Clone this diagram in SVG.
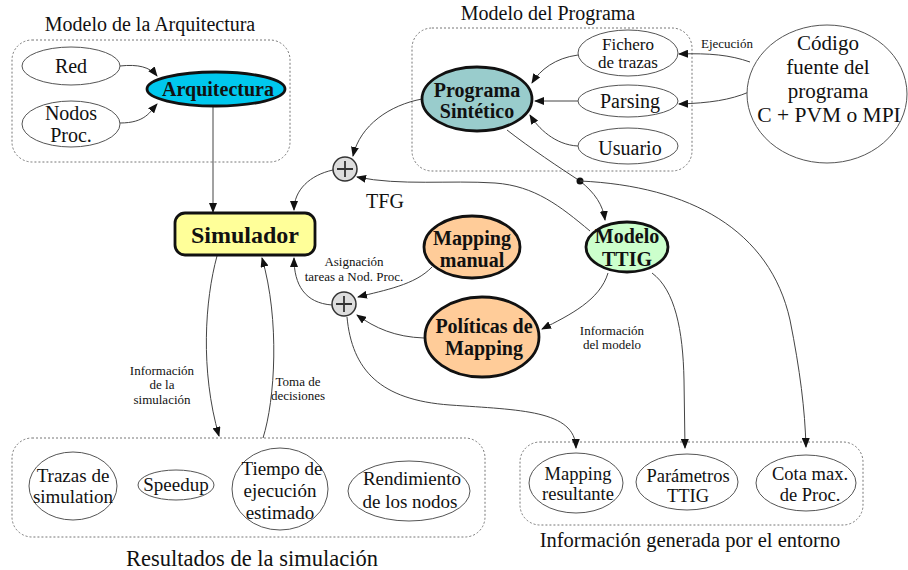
<svg xmlns="http://www.w3.org/2000/svg" width="908" height="570" viewBox="0 0 908 570">
<defs>
<marker id="ah" markerWidth="10" markerHeight="8" refX="9" refY="4" orient="auto" markerUnits="userSpaceOnUse">
<path d="M0,0 L10,4 L0,8 z" fill="#111"/>
</marker>
<style>
text{font-family:"Liberation Serif","Times New Roman",serif;fill:#111;text-anchor:middle}
.t{font-size:20px}
.n{font-size:19px}
.s{font-size:13px}
.b{font-size:20px;font-weight:bold}
.box{fill:none;stroke:#777;stroke-width:1;stroke-dasharray:2,2}
.thin{fill:#fff;stroke:#555;stroke-width:1}
.thick{stroke:#111;stroke-width:2.8}
.c{fill:none;stroke:#444;stroke-width:1}
.ca{fill:none;stroke:#444;stroke-width:1;marker-end:url(#ah)}
.plus{fill:#ddd;stroke:#333;stroke-width:1.5}
.pl{stroke:#333;stroke-width:1.8}
.cod{font-size:21px}
</style>
</defs>
<rect width="908" height="570" fill="#fff"/>

<g id="grp-arq">
<rect class="box" x="12" y="40" width="278" height="122" rx="20"/>
<text class="t" x="150" y="31">Modelo de la Arquitectura</text>
</g>
<g id="grp-prog">
<rect class="box" x="412" y="28" width="280" height="143" rx="20"/>
<text class="t" x="548" y="20">Modelo del Programa</text>
</g>
<g id="grp-res">
<rect class="box" x="12" y="438" width="473" height="99" rx="20"/>
<text class="t" x="252" y="566" style="font-size:22.5px">Resultados de la simulación</text>
</g>
<g id="grp-info">
<rect class="box" x="520" y="442" width="343" height="83" rx="20"/>
<text class="t" x="690" y="547" style="font-size:20.5px">Información generada por el entorno</text>
</g>

<g id="connectors">
<path class="ca" d="M120,66 C138,64 150,67 157,76"/>
<path class="ca" d="M120,123 C145,123 150,112 157,104"/>
<path class="ca" d="M213,107 L213,212"/>
<path class="ca" d="M422,99 C390,105 360,125 353,156"/>
<path class="ca" d="M333,170 C310,175 294,190 294,210"/>
<path class="ca" d="M578,55 C555,58 540,70 532,83"/>
<path class="ca" d="M578,101 L535,101"/>
<path class="ca" d="M578,146 C555,145 538,128 530,115"/>
<path class="ca" d="M750,62 C730,55 710,53 679,54"/>
<path class="ca" d="M749,92 C730,100 710,103 679,104"/>
<path class="ca" d="M507,130 C530,148 560,168 580,181 C595,193 603,205 605,220"/>
<circle cx="580" cy="181" r="3.5" fill="#111"/>
<path class="ca" d="M580,181 C690,186 770,230 790,320 C800,370 805,410 806,447"/>
<path class="ca" d="M590,231 C560,206 535,186 495,183 C450,180 400,186 357,177"/>
<path class="ca" d="M608,273 C600,300 570,315 542,329"/>
<path class="ca" d="M652,273 C675,290 683,330 684,380 L685,448"/>
<path class="ca" d="M432,267 C415,285 385,290 358,297"/>
<path class="ca" d="M424,338 C395,337 375,328 357,315"/>
<path class="ca" d="M332,305 C305,303 294,285 294,258"/>
<path class="ca" d="M347,317 C352,370 380,400 450,405 C520,410 575,410 576,448"/>
<path class="ca" d="M217,256 C205,300 200,370 219,436"/>
<path class="ca" d="M263,438 C275,400 280,320 262,258"/>
<text class="s" x="727" y="48">Ejecución</text>
<text class="t" x="385" y="208">TFG</text>
<text class="s" x="354" y="266">Asignación</text>
<text class="s" x="354" y="281">tareas a Nod. Proc.</text>
<text class="s" x="612" y="335">Información</text>
<text class="s" x="612" y="349">del modelo</text>
<text class="s" x="162" y="375">Información</text>
<text class="s" x="162" y="389">de la</text>
<text class="s" x="162" y="404">simulación</text>
<text class="s" x="298" y="386">Toma de</text>
<text class="s" x="298" y="400">decisiones</text>
</g>

<g id="n-red"><ellipse class="thin" cx="71" cy="66" rx="49" ry="19"/><text class="t" x="71" y="73">Red</text></g>
<g id="n-nodos"><ellipse class="thin" cx="71" cy="124" rx="49" ry="23"/><text class="t" x="71" y="120">Nodos</text><text class="t" x="71" y="142">Proc.</text></g>
<g id="n-arq"><ellipse class="thick" fill="#00c8ee" cx="216" cy="89" rx="69" ry="17"/><text class="b" x="218" y="96">Arquitectura</text></g>
<g id="n-sim"><rect class="thick" fill="#ffff99" x="175" y="213" width="140" height="42" rx="10"/><text class="b" x="245" y="243" style="font-size:24px">Simulador</text></g>
<g id="n-plus1"><circle class="plus" cx="345" cy="169" r="12"/><path class="pl" d="M337,169 H353 M345,161 V177"/></g>
<g id="n-plus2"><circle class="plus" cx="344" cy="304" r="12"/><path class="pl" d="M336,304 H352 M344,296 V312"/></g>
<g id="n-prog"><ellipse class="thick" fill="#99cccc" cx="477" cy="99" rx="55" ry="32"/><text class="b" x="477" y="97">Programa</text><text class="b" x="477" y="118">Sintético</text></g>
<g id="n-fich"><ellipse class="thin" cx="628" cy="53" rx="50" ry="23"/><text class="t" x="628" y="50" style="font-size:17px">Fichero</text><text class="t" x="628" y="68" style="font-size:17px">de trazas</text></g>
<g id="n-pars"><ellipse class="thin" cx="628" cy="101" rx="50" ry="16"/><text class="t" x="630" y="108">Parsing</text></g>
<g id="n-usu"><ellipse class="thin" cx="628" cy="146" rx="50" ry="18"/><text class="t" x="630" y="155">Usuario</text></g>
<g id="n-cod"><ellipse class="thin" cx="827" cy="94" rx="80" ry="69"/><text class="cod" x="828" y="50">Código</text><text class="cod" x="828" y="74">fuente del</text><text class="cod" x="828" y="98">programa</text><text class="cod" x="829" y="122" style="font-size:21.5px">C + PVM o MPI</text></g>
<g id="n-ttig"><ellipse class="thick" fill="#ccffcc" cx="627" cy="247" rx="41" ry="25"/><text class="b" x="627" y="243">Modelo</text><text class="b" x="627" y="266">TTIG</text></g>
<g id="n-mman"><ellipse class="thick" fill="#ffcc99" cx="472" cy="247" rx="48" ry="31"/><text class="b" x="472" y="245">Mapping</text><text class="b" x="472" y="267">manual</text></g>
<g id="n-pol"><ellipse class="thick" fill="#ffcc99" cx="482" cy="337" rx="57" ry="40"/><text class="b" x="484" y="333">Políticas de</text><text class="b" x="484" y="355">Mapping</text></g>
<g id="n-tra"><ellipse class="thin" cx="73" cy="486" rx="44" ry="34"/><text class="n" x="73" y="482">Trazas de</text><text class="n" x="73" y="503">simulation</text></g>
<g id="n-spd"><ellipse class="thin" cx="176" cy="485" rx="38" ry="15"/><text class="n" x="176" y="491">Speedup</text></g>
<g id="n-tie"><ellipse class="thin" cx="280" cy="489" rx="48" ry="41"/><text class="n" x="282" y="475">Tiempo de</text><text class="n" x="280" y="497">ejecución</text><text class="n" x="280" y="519">estimado</text></g>
<g id="n-ren"><ellipse class="thin" cx="409" cy="491" rx="61" ry="30"/><text class="n" x="412" y="485">Rendimiento</text><text class="n" x="410" y="508">de los nodos</text></g>
<g id="n-mres"><ellipse class="thin" cx="576" cy="483" rx="47" ry="30"/><text class="n" x="578" y="480" style="font-size:18.5px">Mapping</text><text class="n" x="578" y="500" style="font-size:18.5px">resultante</text></g>
<g id="n-par"><ellipse class="thin" cx="687" cy="482" rx="51" ry="28"/><text class="n" x="688" y="482" style="font-size:18.5px">Parámetros</text><text class="n" x="688" y="502" style="font-size:18.5px">TTIG</text></g>
<g id="n-cota"><ellipse class="thin" cx="806" cy="483" rx="50" ry="28"/><text class="n" x="810" y="480" style="font-size:18.5px">Cota max.</text><text class="n" x="810" y="501" style="font-size:18.5px">de Proc.</text></g>
</svg>
